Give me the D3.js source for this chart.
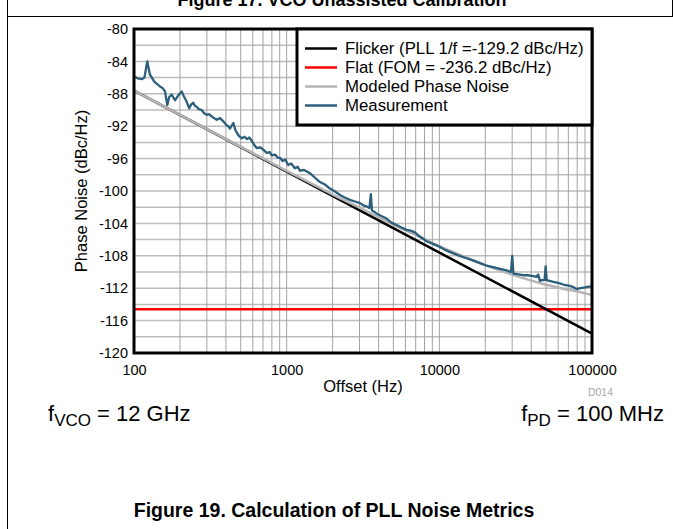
<!DOCTYPE html>
<html><head><meta charset="utf-8">
<script src="https://cdn.jsdelivr.net/npm/d3@7"></script>
<style>
body{margin:0;background:#fff}
svg{display:block}
text{font-family:Arial,"Liberation Sans",Helvetica,sans-serif}
</style>
</head><body>
<svg id="chart" width="673" height="529"></svg>
<script>
// ---------- data ----------
const yTicks = [-80,-84,-88,-92,-96,-100,-104,-108,-112,-116,-120];
const xTicks = [100,1000,10000,100000];
const xTickLabels = ["100","1000","10000","100000"];

const flickerFreq = [100,100000];
const flickerDb   = [-87.6,-117.6];

const flatFreq = [100,100000];
const flatDb   = [-114.6,-114.6];

const modelFreq = [100,200,300,500,700,1000,1500,2000,3000,5000,7000,10000,15000,20000,30000,40000,50000,60000,70000,80000,100000];
const modelDb   = [-87.6,-90.6,-92.35,-94.55,-95.98,-97.52,-99.22,-100.44,-102.04,-104.18,-105.43,-106.81,-108.2,-109.15,-110.33,-111.07,-111.58,-111.92,-112.2,-112.4,-112.84];

const measFreq = [101.5,106,112.3,117,122.2,127,135.8,142,148,154,159.6,165.2,170,176.5,185.5,195,205.3,212,219,230.2,237,244.5,251,257.4,266,277.6,288,299.3,310,322.8,335,348,366,384.5,400,414.6,425,447,462,482,507,530,550,570,590,612,636,668,703,740,775,798,840,875,904,940,980,1024,1070,1133,1180,1222,1300,1421,1520,1652,1780,1921,2050,2234,2400,2597,2800,3020,3200,3341,3485,3560,3620,3702,3900,4083,4300,4517,4850,5253,5650,6107,6500,6922,7300,7700,8258,9000,10090,11000,12330,13500,15090,16700,18450,20300,22540,25000,27590,29440,30020,30570,33000,35440,38000,41190,43500,44430,45580,47000,48900,49670,50500,55000,61630,66000,71670,76000,79280,84000,89830,95000,100000];
const measDb   = [-85.9,-86.1,-86.2,-86.0,-84.0,-85.6,-86.5,-86.8,-87.1,-87.3,-87.7,-89.4,-88.4,-88.1,-88.8,-88.2,-87.7,-88.3,-88.8,-89.8,-89.3,-89.1,-89.5,-89.6,-89.9,-90.0,-90.4,-90.6,-90.5,-90.8,-91.0,-91.2,-91.0,-91.4,-91.8,-92.0,-92.3,-91.6,-92.5,-93.1,-93.5,-93.3,-93.6,-93.4,-93.8,-94.3,-94.7,-94.6,-94.9,-95.3,-95.2,-95.6,-95.5,-95.9,-95.9,-96.3,-96.1,-96.8,-96.6,-97.2,-97.0,-97.5,-97.4,-97.8,-98.3,-98.9,-99.2,-99.7,-100.0,-100.5,-100.8,-101.1,-101.3,-101.5,-101.8,-101.9,-102.1,-100.4,-102.4,-102.5,-102.8,-103.0,-103.2,-103.4,-103.9,-104.2,-104.5,-104.8,-104.9,-105.1,-105.5,-105.8,-106.2,-106.5,-106.9,-107.3,-107.7,-108.0,-108.3,-108.6,-108.9,-109.2,-109.4,-109.6,-109.8,-110.0,-108.0,-110.2,-110.3,-110.4,-110.4,-110.5,-110.6,-110.3,-111.1,-111.0,-111.0,-109.3,-111.0,-111.2,-111.4,-111.6,-111.7,-111.9,-112.1,-112.0,-111.9,-111.8,-111.8];

const legendLabels = ["Flicker (PLL 1/f =-129.2 dBc/Hz)","Flat (FOM = -236.2 dBc/Hz)","Modeled Phase Noise","Measurement"];
const legendColors = ["#000000","#ff0000","#b4b4b4","#2c5f7b"];

// ---------- layout ----------
const svg = d3.select("#chart");
const L = 134, R = 592, T = 29, B = 353;
const x = d3.scaleLog().domain([100,100000]).range([L,R]);
const y = d3.scaleLinear().domain([-120,-80]).range([B,T]);

// page frame
svg.append("line").attr("x1",7.5).attr("x2",7.5).attr("y1",0).attr("y2",529).attr("stroke","#000").attr("stroke-width",1);
svg.append("line").attr("x1",7).attr("x2",673).attr("y1",16.5).attr("y2",16.5).attr("stroke","#000").attr("stroke-width",1);
svg.append("line").attr("x1",672.5).attr("x2",672.5).attr("y1",0).attr("y2",17).attr("stroke","#000").attr("stroke-width",1);

// top (cut) title, as in the reference
svg.append("text").attr("x",342).attr("y",6).attr("text-anchor","middle")
  .attr("font-size",18).attr("font-weight","bold").text("Figure 17. VCO Unassisted Calibration");

// grid
const g = svg.append("g");
const hLines = d3.range(-118,-80,2);
g.selectAll(".hg").data(hLines).join("line")
  .attr("x1",L).attr("x2",R).attr("y1",d=>y(d)).attr("y2",d=>y(d))
  .attr("stroke","#bdbdbd").attr("stroke-width",1.5);
const vLines = [];
[100,1000,10000].forEach(dec=>{ for(let k=1;k<=9;k++){ if(!(k===1&&dec===100)) vLines.push(k*dec);} });
g.selectAll(".vg").data(vLines).join("line")
  .attr("x1",d=>x(d)).attr("x2",d=>x(d)).attr("y1",T).attr("y2",B)
  .attr("stroke","#a3a3a3").attr("stroke-width",1);

// series
const line = d3.line().x(d=>x(d[0])).y(d=>y(d[1]));
const zip = (a,b)=>a.map((v,i)=>[v,b[i]]);
svg.append("path").datum(zip(flatFreq,flatDb)).attr("d",line).attr("fill","none").attr("stroke","#ff0000").attr("stroke-width",2.5);
svg.append("path").datum(zip(flickerFreq,flickerDb)).attr("d",line).attr("fill","none").attr("stroke","#000").attr("stroke-width",2.5);
svg.append("path").datum(zip(modelFreq,modelDb)).attr("d",d3.line().x(d=>x(d[0])).y(d=>y(d[1])).curve(d3.curveMonotoneX))
  .attr("fill","none").attr("stroke","#b4b4b4").attr("stroke-width",2.5);
svg.append("path").datum(zip(measFreq,measDb)).attr("d",line).attr("fill","none").attr("stroke","#2c5f7b")
  .attr("stroke-width",2.3).attr("stroke-linejoin","round");

// plot frame
svg.append("rect").attr("x",L).attr("y",T).attr("width",R-L).attr("height",B-T)
  .attr("fill","none").attr("stroke","#000").attr("stroke-width",3);

// axes
const yAxis = svg.append("g").attr("transform",`translate(${L},0)`)
  .call(d3.axisLeft(y).tickValues(yTicks).tickSize(0).tickPadding(6).tickFormat(d=>String(d)));
yAxis.select(".domain").remove();
yAxis.selectAll("text").attr("font-size",14.5).attr("font-family","Arial, 'Liberation Sans', sans-serif").attr("fill","#000");

const xAxis = svg.append("g").attr("transform",`translate(0,${B})`)
  .call(d3.axisBottom(x).tickValues(xTicks).tickSize(0).tickPadding(12).tickFormat((d,i)=>xTickLabels[i]));
xAxis.select(".domain").remove();
xAxis.selectAll("text").attr("font-size",14.5).attr("font-family","Arial, 'Liberation Sans', sans-serif").attr("fill","#000");

// axis titles
svg.append("text").attr("transform",`translate(87,${(T+B)/2}) rotate(-90)`).attr("text-anchor","middle")
  .attr("font-size",16.5).text("Phase Noise (dBc/Hz)");
svg.append("text").attr("x",(L+R)/2).attr("y",392).attr("text-anchor","middle")
  .attr("font-size",16.5).text("Offset (Hz)");
svg.append("text").attr("x",613).attr("y",396).attr("text-anchor","end")
  .attr("font-size",10.5).attr("fill","#a8a8a8").text("D014");

// legend
const lg = svg.append("g");
lg.append("rect").attr("x",297).attr("y",T).attr("width",R-297).attr("height",96)
  .attr("fill","#fff").attr("stroke","#000").attr("stroke-width",3);
legendLabels.forEach((lab,i)=>{
  const yy = 48.5 + i*19;
  lg.append("line").attr("x1",305).attr("x2",337).attr("y1",yy).attr("y2",yy)
    .attr("stroke",legendColors[i]).attr("stroke-width",2.5);
  lg.append("text").attr("x",345).attr("y",yy+5.5).attr("font-size",16.8).text(lab);
});

// annotations
const t1 = svg.append("text").attr("x",48).attr("y",421).attr("font-size",22);
t1.append("tspan").text("f");
t1.append("tspan").attr("font-size",17).attr("dy",5).text("VCO");
t1.append("tspan").attr("dy",-5).text(" = 12 GHz");
const t2 = svg.append("text").attr("x",664).attr("y",421).attr("font-size",22).attr("text-anchor","end");
t2.append("tspan").text("f");
t2.append("tspan").attr("font-size",17).attr("dy",5).text("PD");
t2.append("tspan").attr("dy",-5).text(" = 100 MHz");

svg.append("text").attr("x",334).attr("y",517).attr("text-anchor","middle")
  .attr("font-size",19.5).attr("font-weight","bold").text("Figure 19. Calculation of PLL Noise Metrics");
</script>
</body></html>
